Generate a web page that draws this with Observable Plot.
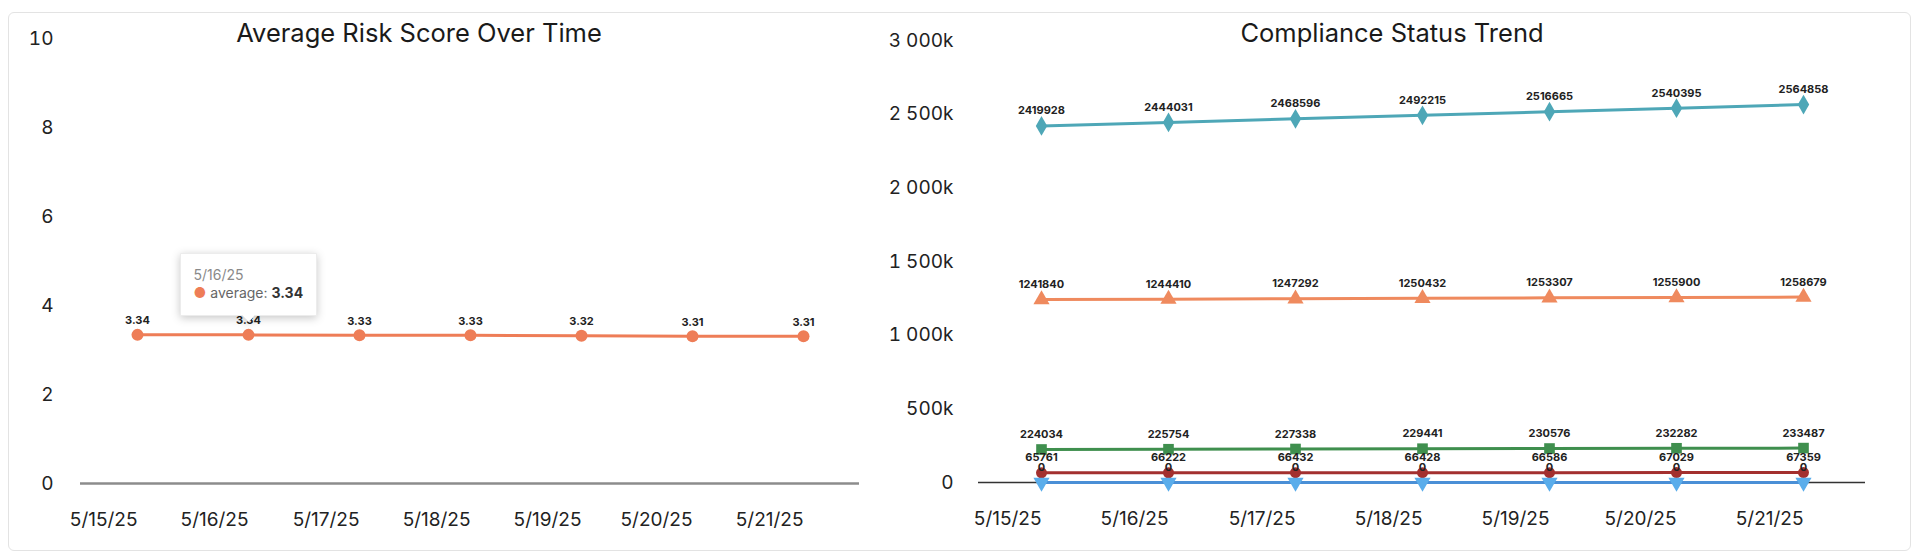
<!DOCTYPE html>
<html>
<head>
<meta charset="utf-8">
<script src="https://cdn.jsdelivr.net/npm/d3@7"></script>
<script src="https://cdn.jsdelivr.net/npm/@observablehq/plot@0.6"></script>
<style>
  html, body { margin: 0; padding: 0; background: #fff; width: 1920px; height: 558px; overflow: hidden; font-family: Inter, "Noto Sans", sans-serif; }
  #card { position: absolute; left: 8px; top: 12px; width: 1903px; height: 539px; border: 1px solid #e3e3e3; border-radius: 6px; box-sizing: border-box; }
  .panel { position: absolute; top: 0; height: 558px; }
  .title { position: absolute; font-size: 25.5px; line-height: 25px; color: #1a1a1a; white-space: nowrap; transform: translateX(-50%); }
</style>
</head>
<body>
<div id="card"></div>
<div id="left" class="panel" style="left:0;width:860px"></div>
<div id="right" class="panel" style="left:860px;width:1060px"></div>
<div class="title" style="left:419px;top:20px">Average Risk Score Over Time</div>
<div class="title" style="left:1392px;top:20px">Compliance Status Trend</div>
<script>
// ---------- data ----------
const dates = ["5/15/25", "5/16/25", "5/17/25", "5/18/25", "5/19/25", "5/20/25", "5/21/25"];
const avgRisk = [3.34, 3.34, 3.33, 3.33, 3.32, 3.31, 3.31];
const riskTicks = [0, 2, 4, 6, 8, 10];

const statusNames = ["Compliant", "Non-Compliant", "Partial", "Pending", "Exempt"];
const compliantCounts = [2419928, 2444031, 2468596, 2492215, 2516665, 2540395, 2564858];
const nonCompliantCounts = [1241840, 1244410, 1247292, 1250432, 1253307, 1255900, 1258679];
const partialCounts = [224034, 225754, 227338, 229441, 230576, 232282, 233487];
const pendingCounts = [65761, 66222, 66432, 66428, 66586, 67029, 67359];
const exemptCounts = [0, 0, 0, 0, 0, 0, 0];
const complianceTicks = [0, 500000, 1000000, 1500000, 2000000, 2500000, 3000000];

// ---------- styles ----------
const seriesStyle = [
  {line: "#4EA7B7", mark: "#4EA7B7", symbol: "diamond", rotate: 0, r: 6},
  {line: "#EF8A5E", mark: "#EF8A5E", symbol: "triangle", rotate: 0, r: 6},
  {line: "#3F8F4E", mark: "#3F8F4E", symbol: "square", rotate: 0, r: 6},
  {line: "#A3302F", mark: "#A3302F", symbol: "circle", rotate: 0, r: 5.5},
  {line: "#4A8FD6", mark: "#5AADEB", symbol: "triangle", rotate: 180, r: 6}
];
const seriesValues = [compliantCounts, nonCompliantCounts, partialCounts, pendingCounts, exemptCounts];

const riskColor = "#EE7D57";
const baseStyle = {fontFamily: "Inter, 'Noto Sans', sans-serif", fontSize: "19px", color: "#222", background: "transparent", overflow: "visible"};

// ---------- left chart ----------
const riskData = dates.map((d, i) => ({date: d, average: avgRisk[i]}));

const left = Plot.plot({
  width: 860, height: 558,
  marginLeft: 80, marginRight: 1, marginTop: 38, marginBottom: 75,
  style: baseStyle,
  x: {type: "point", domain: dates, padding: 0.49, label: null},
  y: {domain: [0, 10], label: null},
  marks: [
    Plot.axisY(riskTicks, {tickSize: 0, tickPadding: 27, label: null, fill: "#222"}),
    Plot.axisX({tickSize: 0, tickPadding: 29, textAnchor: "end", label: null, fill: "#222"}),
    Plot.ruleY([0], {stroke: "#8c8c8c", strokeWidth: 2.5}),
    Plot.line(riskData, {x: "date", y: "average", stroke: riskColor, strokeWidth: 3}),
    Plot.dot(riskData, {x: "date", y: "average", fill: riskColor, r: 6}),
    Plot.text(riskData, {x: "date", y: "average", text: d => d.average.toFixed(2), dy: -14, fontSize: 11, fontWeight: "bold", fill: "#222"}),
    Plot.tip([riskData[1]], {
      x: "date", y: "average", anchor: "bottom", dy: -13,
      title: d => `${d.date}\n● average: ${d.average.toFixed(2)}`,
      fontSize: 14, textPadding: 13, lineHeight: 1.35,
      fill: "white", stroke: "#ececec",
      pathFilter: "drop-shadow(0 2px 4px rgba(0,0,0,0.22))"
    })
  ]
});
document.getElementById("left").appendChild(left);

// style the tooltip text
(function () {
  const ns = "http://www.w3.org/2000/svg";
  const texts = left.querySelectorAll('g[aria-label="tip"] text');
  texts.forEach(text => {
    const spans = Array.from(text.querySelectorAll("tspan"));
    spans.forEach(s => {
      const str = s.textContent;
      if (str.indexOf("/") >= 0 && str.indexOf("average") < 0) {
        s.setAttribute("fill", "#8a8a8a");
      } else if (str.indexOf("average") >= 0 && s.children.length === 0) {
        const iA = str.indexOf("average");
        const iC = str.indexOf(":") + 1;
        const partA = str.slice(0, iA);
        const partB = str.slice(iA, iC) + " ";
        const partC = str.slice(iC).trim();
        s.textContent = "";
        const a = document.createElementNS(ns, "tspan"); a.setAttribute("fill", riskColor); a.textContent = partA;
        const b = document.createElementNS(ns, "tspan"); b.setAttribute("fill", "#666"); b.textContent = partB;
        const c = document.createElementNS(ns, "tspan"); c.setAttribute("fill", "#333"); c.setAttribute("font-weight", "bold"); c.textContent = partC;
        s.appendChild(a); s.appendChild(b); s.appendChild(c);
      }
    });
  });
})();

// ---------- right chart ----------
const spaceLocale = d3.formatLocale({decimal: ".", thousands: " ", grouping: [3], currency: ["$", ""]});
const fmtK = spaceLocale.format(",d");

const seriesMarks = [];
const seriesRows = statusNames.map((name, k) => dates.map((d, i) => ({status: name, date: d, value: seriesValues[k][i]})));
seriesRows.forEach((rows, k) => {
  seriesMarks.push(Plot.line(rows, {x: "date", y: "value", stroke: seriesStyle[k].line, strokeWidth: 3}));
});
seriesRows.forEach((rows, k) => {
  const st = seriesStyle[k];
  seriesMarks.push(Plot.dot(rows, {x: "date", y: "value", fill: st.mark, symbol: st.symbol, r: st.r, rotate: st.rotate}));
});
seriesRows.forEach((rows) => {
  seriesMarks.push(Plot.text(rows, {x: "date", y: "value", text: d => String(d.value), dy: -15, fontSize: 11, fontWeight: "bold", fill: "#222"}));
});

const right = Plot.plot({
  width: 1060, height: 558,
  marginLeft: 118, marginRight: 55, marginTop: 40, marginBottom: 76,
  style: baseStyle,
  x: {type: "point", domain: dates, padding: 0.492, label: null},
  y: {domain: [0, 3000000], label: null},
  marks: [
    Plot.axisY(complianceTicks, {tickSize: 0, tickPadding: 25, label: null, fill: "#222", tickFormat: d => d === 0 ? "0" : fmtK(d / 1000) + "k"}),
    Plot.axisX({tickSize: 0, tickPadding: 29, textAnchor: "end", label: null, fill: "#222"}),
    Plot.ruleY([0], {stroke: "#333", strokeWidth: 1.5}),
    ...seriesMarks
  ]
});
document.getElementById("right").appendChild(right);
</script>
</body>
</html>
